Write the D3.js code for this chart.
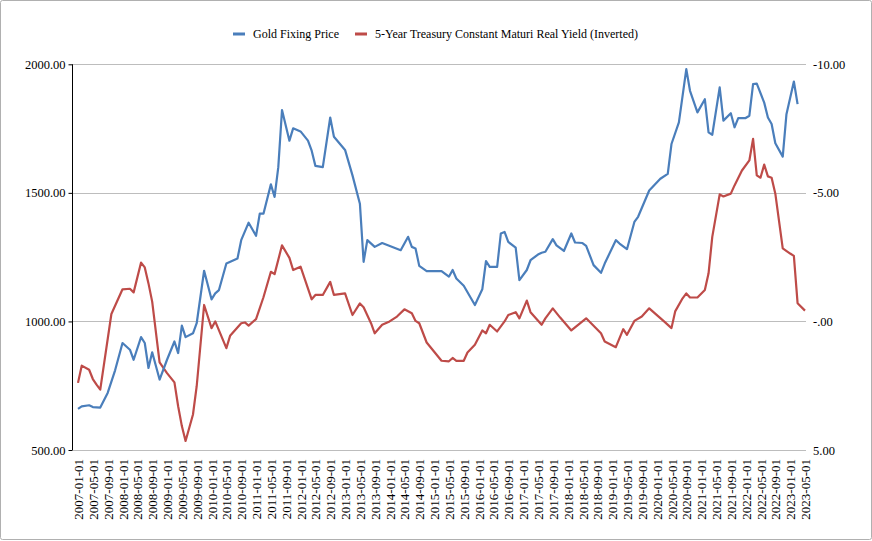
<!DOCTYPE html>
<html>
<head>
<meta charset="utf-8">
<script src="https://cdn.jsdelivr.net/npm/d3@7"></script>
<style>
  body { margin: 0; background: #fff; }
  svg { display: block; font-family: "Liberation Serif", "Times New Roman", serif; }
</style>
</head>
<body>
<div id="chart"></div>
<script>
// Category range (monthly)
const firstMonth = '2007-01';
const lastMonth = '2023-05';
const labelEvery = 4;

const seriesNames = ['Gold Fixing Price', '5-Year Treasury Constant Maturi Real Yield (Inverted)'];

// Gold fixing price (month -> price)
const goldMonths = [
  '2007-01','2007-02','2007-04','2007-05','2007-07','2007-09','2007-11',
  '2008-01','2008-03','2008-04','2008-06','2008-07','2008-08','2008-09','2008-11',
  '2009-01','2009-03','2009-04','2009-05','2009-06','2009-08','2009-09','2009-11',
  '2010-01','2010-02','2010-03','2010-05','2010-08','2010-09','2010-11',
  '2011-01','2011-02','2011-03','2011-05','2011-06','2011-07','2011-08','2011-10','2011-11',
  '2012-01','2012-03','2012-04','2012-05','2012-07','2012-09','2012-10',
  '2013-01','2013-03','2013-05','2013-06','2013-07','2013-09','2013-11',
  '2014-04','2014-06','2014-07','2014-08','2014-09','2014-11',
  '2015-03','2015-05','2015-06','2015-07','2015-09','2015-12',
  '2016-02','2016-03','2016-04','2016-06','2016-07','2016-08','2016-09','2016-11','2016-12',
  '2017-02','2017-03','2017-05','2017-06','2017-07','2017-09','2017-10','2017-12',
  '2018-02','2018-03','2018-05','2018-06','2018-08','2018-10','2018-11',
  '2019-02','2019-03','2019-05','2019-07','2019-08','2019-11',
  '2020-02','2020-04','2020-05','2020-07','2020-09','2020-10','2020-12',
  '2021-02','2021-03','2021-04','2021-06','2021-07','2021-09','2021-10','2021-11',
  '2022-01','2022-02','2022-03','2022-04','2022-06','2022-07','2022-08','2022-09','2022-11','2022-12',
  '2023-02','2023-03'
];
const goldPrices = [
  660, 670, 674, 667, 665, 722, 810,
  916, 890, 851, 939, 916, 819, 880, 774,
  851, 922, 877, 984, 939, 954, 993, 1197,
  1086, 1109, 1122, 1225, 1245, 1316, 1384,
  1333, 1419, 1419, 1533, 1484, 1600, 1822, 1703, 1751,
  1739, 1703, 1664, 1605, 1600, 1793, 1718,
  1667, 1568, 1458, 1232, 1316, 1290, 1305,
  1277, 1329, 1290, 1284, 1216, 1196,
  1196, 1174, 1200, 1167, 1139, 1064,
  1125, 1235, 1212, 1212, 1342, 1348, 1309, 1287, 1161,
  1200, 1238, 1260, 1267, 1271, 1320, 1296, 1274,
  1342, 1307, 1305, 1294, 1219, 1189, 1225,
  1316, 1303, 1281, 1387, 1407, 1509,
  1555, 1574, 1690, 1774, 1981, 1897, 1813,
  1864, 1735, 1726, 1910, 1781, 1810, 1755, 1791,
  1791, 1800, 1923, 1925, 1851, 1793, 1768, 1693, 1641, 1806,
  1933, 1845
];

// 5-year real yield, plotted on the inverted right axis
const yieldMonths = [
  '2007-01','2007-02','2007-04','2007-05','2007-06','2007-07','2007-10',
  '2008-01','2008-03','2008-04','2008-06','2008-07','2008-08','2008-09','2008-11',
  '2009-01','2009-03','2009-04','2009-05','2009-06','2009-08','2009-09','2009-11',
  '2010-01','2010-02','2010-05','2010-06','2010-09','2010-10','2010-11',
  '2011-01','2011-03','2011-05','2011-06','2011-08','2011-10','2011-11',
  '2012-01','2012-04','2012-05','2012-07','2012-09','2012-10',
  '2013-01','2013-03','2013-05','2013-06','2013-08','2013-09','2013-11',
  '2014-01','2014-03','2014-05','2014-07','2014-08','2014-09','2014-11',
  '2015-03','2015-05','2015-06','2015-07','2015-09','2015-10','2015-12',
  '2016-02','2016-03','2016-04','2016-06','2016-08','2016-09','2016-11','2016-12',
  '2017-02','2017-03','2017-06','2017-07','2017-09','2017-11',
  '2018-02','2018-06','2018-10','2018-11',
  '2019-02','2019-04','2019-05','2019-07','2019-09','2019-11',
  '2020-03','2020-05','2020-06','2020-08','2020-09','2020-10','2020-12',
  '2021-02','2021-03','2021-04','2021-06','2021-07','2021-09','2021-10','2021-12',
  '2022-02','2022-03','2022-04','2022-05','2022-06','2022-07','2022-08','2022-09','2022-11',
  '2023-01','2023-02','2023-03','2023-05'
];
const yieldValues = [
  2.39, 1.72, 1.88, 2.24, 2.46, 2.65, -0.29,
  -1.25, -1.27, -1.13, -2.29, -2.10, -1.48, -0.77, 1.59,
  2.01, 2.37, 3.30, 4.07, 4.65, 3.62, 2.52, -0.64,
  0.26, 0.00, 1.04, 0.56, 0.07, 0.04, 0.16,
  -0.09, -0.94, -1.93, -1.84, -2.96, -2.47, -2.00,
  -2.13, -0.86, -1.03, -1.03, -1.54, -1.03,
  -1.09, -0.25, -0.70, -0.55, 0.07, 0.46, 0.13,
  0.00, -0.19, -0.47, -0.32, -0.02, 0.07, 0.82,
  1.53, 1.55, 1.42, 1.53, 1.53, 1.21, 0.91,
  0.35, 0.46, 0.13, 0.39, 0.00, -0.25, -0.36, -0.12,
  -0.81, -0.36, 0.13, -0.12, -0.51, -0.15,
  0.35, -0.12, 0.46, 0.78,
  1.00, 0.30, 0.52, -0.02, -0.19, -0.51,
  0.00, 0.26, -0.39, -0.90, -1.09, -0.93, -0.93,
  -1.22, -1.87, -3.29, -4.94, -4.86, -4.97, -5.29, -5.87,
  -6.26, -7.10, -5.68, -5.59, -6.10, -5.64, -5.59, -4.97, -2.84,
  -2.64, -2.55, -0.71, -0.42
];

// Axis ticks
const leftTicks = [500, 1000, 1500, 2000];
const rightTicks = [-10, -5, 0, 5];
const rightTickLabels = ['-10.00', '-5.00', '-.00', '5.00'];

const colors = ['#4a7ebb', '#be4b48'];

const width = 872, height = 541;
const plot = { left: 72.5, right: 806, top: 64.3, bottom: 450 };

const parseMonth = d3.timeParse('%Y-%m');
const fmtMonth = d3.timeFormat('%Y-%m');
const fmtLabel = d3.timeFormat('%Y-%m-%d');

const months = d3.timeMonth.range(parseMonth(firstMonth), d3.timeMonth.offset(parseMonth(lastMonth), 1)).map(fmtMonth);

const svg = d3.select('#chart').append('svg')
  .attr('width', width)
  .attr('height', height);

// outer frame
svg.append('rect')
  .attr('x', 0.5).attr('y', 0.5)
  .attr('width', width - 1).attr('height', height - 2)
  .attr('rx', 2)
  .attr('fill', '#fff')
  .attr('stroke', '#b0b0b0');

const x = d3.scalePoint().domain(months).range([78, 805]);
const yLeft = d3.scaleLinear().domain([500, 2000]).range([plot.bottom, plot.top]);
const yRight = d3.scaleLinear().domain([-10, 5]).range([plot.top, plot.bottom]);

// gridlines
svg.append('g')
  .selectAll('line')
  .data(leftTicks)
  .join('line')
  .attr('x1', plot.left).attr('x2', plot.right)
  .attr('y1', d => Math.round(yLeft(d)) + 0.5)
  .attr('y2', d => Math.round(yLeft(d)) + 0.5)
  .attr('stroke', '#bdbdbd')
  .attr('stroke-width', 1);

// left axis
const leftAxis = d3.axisLeft(yLeft)
  .tickValues(leftTicks)
  .tickFormat(d3.format('.2f'))
  .tickSize(4)
  .tickPadding(3);

const gl = svg.append('g')
  .attr('transform', `translate(${plot.left},0)`)
  .call(leftAxis);
gl.select('.domain').attr('stroke', '#000').attr('d', `M0,${plot.top}V${plot.bottom}`);
gl.selectAll('.tick line').attr('stroke', '#000');
gl.selectAll('text')
  .attr('fill', '#000')
  .style('font-family', '"Liberation Serif", serif')
  .style('font-size', '12.5px');

// right axis (inverted)
const rightAxis = d3.axisRight(yRight)
  .tickValues(rightTicks)
  .tickFormat((d, i) => rightTickLabels[i])
  .tickSize(0)
  .tickPadding(7);

const gr = svg.append('g')
  .attr('transform', `translate(${plot.right},0)`)
  .call(rightAxis);
gr.select('.domain').remove();
gr.selectAll('text')
  .attr('fill', '#000')
  .style('font-family', '"Liberation Serif", serif')
  .style('font-size', '12.5px');

// bottom category axis
const labelMonths = months.filter((d, i) => i % labelEvery === 0);
const gx = svg.append('g')
  .attr('transform', `translate(0,${plot.bottom})`)
  .call(d3.axisBottom(x).tickValues(labelMonths).tickSize(0).tickFormat(''));
gx.select('.domain').remove();

gx.selectAll('.tick')
  .append('text')
  .attr('transform', 'rotate(-90)')
  .attr('x', -9)
  .attr('y', 0)
  .attr('dy', '0.35em')
  .attr('text-anchor', 'end')
  .attr('fill', '#000')
  .style('font-family', '"Liberation Serif", serif')
  .style('font-size', '13px')
  .text(d => fmtLabel(parseMonth(d)));

// lines
const goldData = goldMonths.map((m, i) => ({ m, v: goldPrices[i] }));
const yieldData = yieldMonths.map((m, i) => ({ m, v: yieldValues[i] }));

svg.append('path')
  .datum(yieldData)
  .attr('fill', 'none')
  .attr('stroke', colors[1])
  .attr('stroke-width', 2.2)
  .attr('stroke-linejoin', 'round')
  .attr('d', d3.line().x(d => x(d.m)).y(d => yRight(d.v)));

svg.append('path')
  .datum(goldData)
  .attr('fill', 'none')
  .attr('stroke', colors[0])
  .attr('stroke-width', 2.2)
  .attr('stroke-linejoin', 'round')
  .attr('d', d3.line().x(d => x(d.m)).y(d => yLeft(d.v)));

// legend
const legendItems = [
  { name: seriesNames[0], color: colors[0], x: 233 },
  { name: seriesNames[1], color: colors[1], x: 355 }
];
const lg = svg.append('g').selectAll('g')
  .data(legendItems)
  .join('g')
  .attr('transform', d => `translate(${d.x},34)`);

lg.append('rect')
  .attr('x', 0).attr('y', -1.5)
  .attr('width', 12).attr('height', 3)
  .attr('fill', d => d.color);

lg.append('text')
  .attr('x', 20)
  .attr('y', 0)
  .attr('dy', '0.35em')
  .attr('fill', '#000')
  .style('font-size', '12px')
  .text(d => d.name);
</script>
</body>
</html>
